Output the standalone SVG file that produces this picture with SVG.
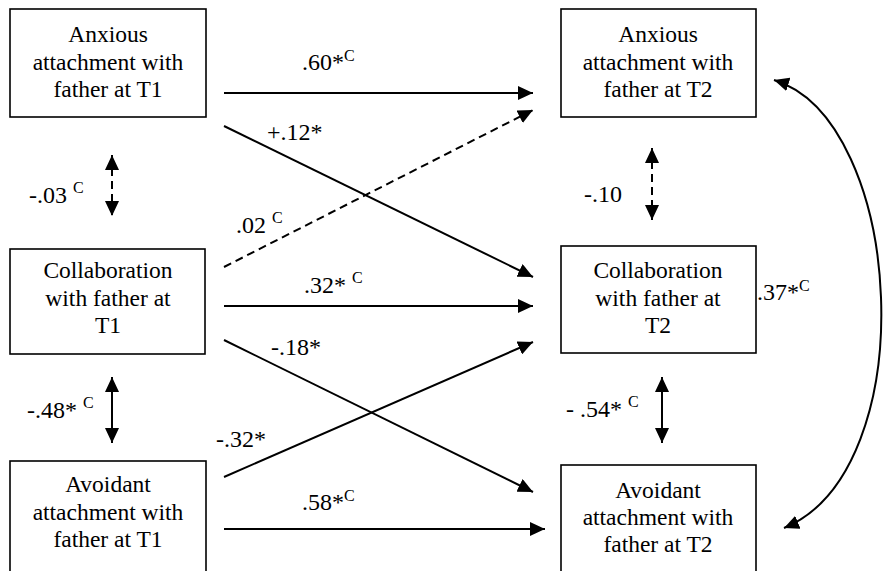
<svg xmlns="http://www.w3.org/2000/svg" width="885" height="571" viewBox="0 0 885 571">
<style>
.box{fill:#fff;stroke:#000;stroke-width:1.6}
.ln{fill:none;stroke:#000;stroke-width:2}
.dash{stroke-dasharray:8 5}
</style>
<defs>
<marker id="ah" markerUnits="userSpaceOnUse" markerWidth="16" markerHeight="14" refX="15" refY="7" orient="auto-start-reverse" viewBox="0 0 16 14">
<path d="M0,0 L15,7 L0,14 z" fill="#000"/>
</marker>
</defs>
<rect width="885" height="571" fill="#fff"/>
<g id="connectors">
<line class="ln" x1="224" y1="93" x2="533" y2="93" marker-end="url(#ah)"/>
<line class="ln" x1="224" y1="126" x2="533" y2="277" marker-end="url(#ah)"/>
<line class="ln dash" x1="224" y1="267" x2="533" y2="110" marker-end="url(#ah)"/>
<line class="ln" x1="224" y1="306" x2="533" y2="306" marker-end="url(#ah)"/>
<line class="ln" x1="224" y1="340" x2="533" y2="492" marker-end="url(#ah)"/>
<line class="ln" x1="224" y1="477" x2="533" y2="342" marker-end="url(#ah)"/>
<line class="ln" x1="224" y1="529" x2="545" y2="529" marker-end="url(#ah)"/>
<line class="ln dash" x1="112" y1="155" x2="112" y2="216" marker-start="url(#ah)" marker-end="url(#ah)"/>
<line class="ln" x1="112" y1="377" x2="112" y2="443" marker-start="url(#ah)" marker-end="url(#ah)"/>
<line class="ln dash" x1="652" y1="148" x2="652" y2="220" marker-start="url(#ah)" marker-end="url(#ah)"/>
<line class="ln" x1="662" y1="377" x2="662" y2="443" marker-start="url(#ah)" marker-end="url(#ah)"/>
<path class="ln" d="M774,80 C905,120 925,470 784,528" marker-start="url(#ah)" marker-end="url(#ah)"/>
</g>
<g id="labels">
<text x="302" y="70" style="font-family:'Liberation Serif',serif;font-size:24px">.60*<tspan style="font-size:16px" dy="-9">C</tspan></text>
<text x="267" y="140" style="font-family:'Liberation Serif',serif;font-size:24px">+.12*</text>
<text x="236" y="233" style="font-family:'Liberation Serif',serif;font-size:24px">.02 <tspan style="font-size:16px" dy="-10">C</tspan></text>
<text x="304" y="293" style="font-family:'Liberation Serif',serif;font-size:24px">.32* <tspan style="font-size:16px" dy="-10">C</tspan></text>
<text x="271" y="355" style="font-family:'Liberation Serif',serif;font-size:24px">-.18*</text>
<text x="216" y="447" style="font-family:'Liberation Serif',serif;font-size:24px">-.32*</text>
<text x="302" y="510" style="font-family:'Liberation Serif',serif;font-size:24px">.58*<tspan style="font-size:16px" dy="-9">C</tspan></text>
<text x="29" y="203" style="font-family:'Liberation Serif',serif;font-size:24px">-.03 <tspan style="font-size:16px" dy="-10">C</tspan></text>
<text x="27" y="418" style="font-family:'Liberation Serif',serif;font-size:24px">-.48* <tspan style="font-size:16px" dy="-10">C</tspan></text>
<text x="584" y="202" style="font-family:'Liberation Serif',serif;font-size:24px">-.10</text>
<text x="566" y="417" style="font-family:'Liberation Serif',serif;font-size:24px">- .54* <tspan style="font-size:16px" dy="-10">C</tspan></text>
<text x="757" y="300" style="font-family:'Liberation Serif',serif;font-size:24px">.37*<tspan style="font-size:16px" dy="-9">C</tspan></text>
</g>
<g id="anx1">
<rect class="box" x="10" y="9" width="196" height="108"/>
<text style="font-family:'Liberation Serif',serif;font-size:23.5px;text-anchor:middle"><tspan x="108" y="42">Anxious</tspan><tspan x="108" y="69.5">attachment with</tspan><tspan x="108" y="97">father at T1</tspan></text>
</g>
<g id="col1">
<rect class="box" x="10" y="249" width="195" height="105"/>
<text style="font-family:'Liberation Serif',serif;font-size:23.5px;text-anchor:middle"><tspan x="108" y="278">Collaboration</tspan><tspan x="108" y="305.5">with father at</tspan><tspan x="108" y="333">T1</tspan></text>
</g>
<g id="avo1">
<rect class="box" x="10" y="461" width="196" height="116"/>
<text style="font-family:'Liberation Serif',serif;font-size:23.5px;text-anchor:middle"><tspan x="108" y="492">Avoidant</tspan><tspan x="108" y="519.5">attachment with</tspan><tspan x="108" y="547">father at T1</tspan></text>
</g>
<g id="anx2">
<rect class="box" x="561" y="9" width="195" height="108"/>
<text style="font-family:'Liberation Serif',serif;font-size:23.5px;text-anchor:middle"><tspan x="658" y="42">Anxious</tspan><tspan x="658" y="69.5">attachment with</tspan><tspan x="658" y="97">father at T2</tspan></text>
</g>
<g id="col2">
<rect class="box" x="561" y="246" width="195" height="107"/>
<text style="font-family:'Liberation Serif',serif;font-size:23.5px;text-anchor:middle"><tspan x="658" y="278">Collaboration</tspan><tspan x="658" y="305.5">with father at</tspan><tspan x="658" y="333">T2</tspan></text>
</g>
<g id="avo2">
<rect class="box" x="561" y="465" width="195" height="112"/>
<text style="font-family:'Liberation Serif',serif;font-size:23.5px;text-anchor:middle"><tspan x="658" y="498">Avoidant</tspan><tspan x="658" y="525">attachment with</tspan><tspan x="658" y="552">father at T2</tspan></text>
</g>
</svg>
